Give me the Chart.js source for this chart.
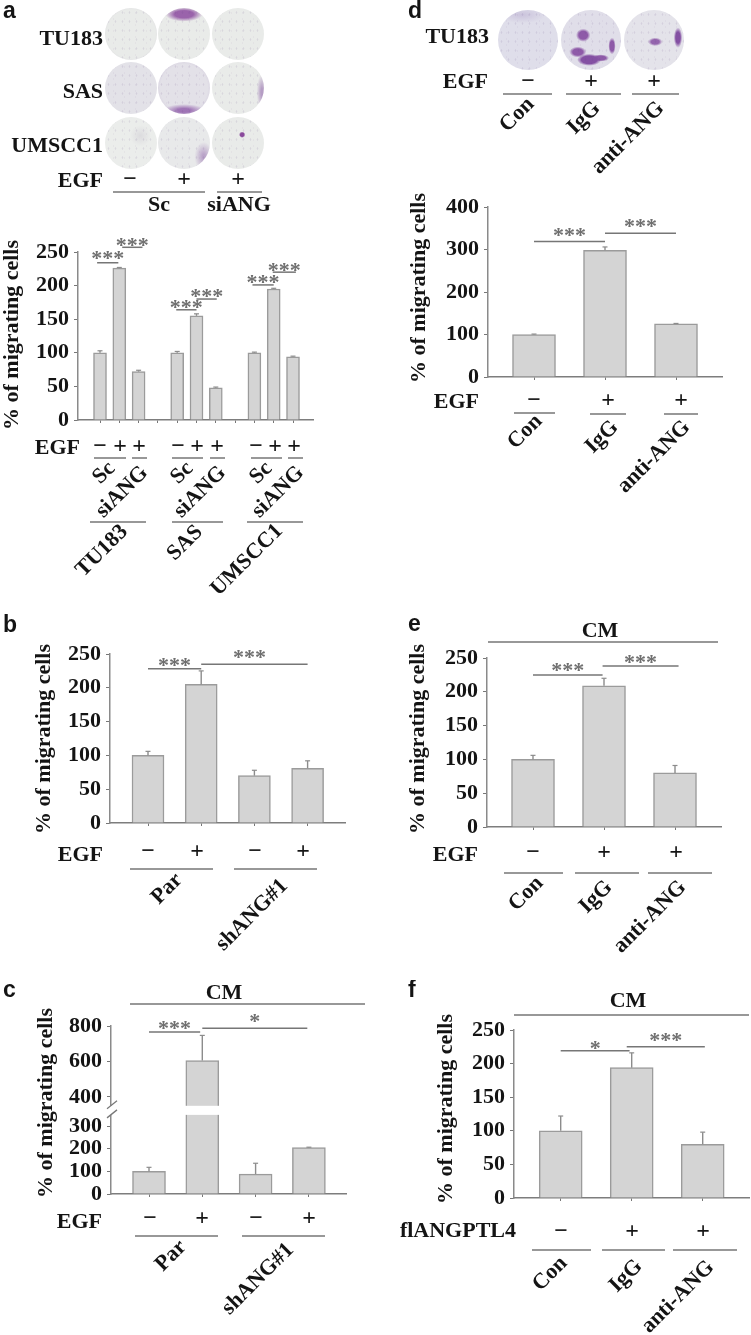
<!DOCTYPE html>
<html>
<head>
<meta charset="utf-8">
<title>Migrating cells</title>
<script src="https://cdn.jsdelivr.net/npm/chart.js@4/dist/chart.umd.js"></script>
<style>
    html, body { margin: 0; background: #fff; }
    #page { position: relative; width: 751px; height: 1335px; overflow: hidden; }
    canvas { position: absolute; filter: blur(0.35px); }
    .dish { position: absolute; border-radius: 50%; filter: blur(0.7px); overflow: hidden; }
    .dish::after {
        content: ""; position: absolute; inset: 0; opacity: .22;
        background-image: radial-gradient(rgba(100,70,130,.55) .6px, transparent 1.1px), radial-gradient(rgba(100,70,130,.4) .7px, transparent 1.2px);
        background-size: 7px 9px, 11px 6px;
        background-position: 0 0, 3px 2px;
    }
</style>
</head>
<body>
<div id="page"></div>
<script>
// values
const aCategories = ["Sc", "Sc", "siANG", "", "Sc", "Sc", "siANG", "", "Sc", "Sc", "siANG"];
const aValues = [100, 226, 72, null, 100, 155, 48, null, 100, 195, 94];
const aErrors = [3, 1, 2, null, 2, 3, 1, null, 1, 1, 1];
const aTicks = [0, 50, 100, 150, 200, 250];

const bCategories = ["Par -", "Par +", "shANG#1 -", "shANG#1 +"];
const bValues = [100, 205, 70, 81];
const bErrors = [6, 20, 8, 11];
const bTicks = [0, 50, 100, 150, 200, 250];

const cCategories = ["Par -", "Par +", "shANG#1 -", "shANG#1 +"];
const cValues = [100, 605, 88, 205];
const cErrors = [18, 142, 48, 2];
const cTicks = [0, 100, 200, 300, 400, 600, 800];

const dCategories = ["Con", "IgG", "anti-ANG"];
const dValues = [100, 298, 125];
const dErrors = [1, 8, 1];
const dTicks = [0, 100, 200, 300, 400];

const eCategories = ["Con", "IgG", "anti-ANG"];
const eValues = [100, 209, 80];
const eErrors = [6, 11, 11];
const eTicks = [0, 50, 100, 150, 200, 250];

const fCategories = ["Con", "IgG", "anti-ANG"];
const fValues = [100, 194, 80];
const fErrors = [22, 22, 18];
const fTicks = [0, 50, 100, 150, 200, 250];

const yTitle = "% of migrating cells";
const serif = '"Liberation Serif", serif';
const ink = "#141414";
const ruleGrey = "#767676";

// panel c has a broken y axis, the part under 350 is stretched
class BrokenScale extends Chart.LinearScale {
    getPixelForValue(value) {
        const h = this.bottom - this.top;
        if (value <= 350) return this.bottom - (value / 350) * 0.471 * h;
        return this.bottom - (0.525 + ((value - 350) / 450) * 0.475) * h;
    }
}
BrokenScale.id = "broken";
BrokenScale.defaults = Chart.LinearScale.defaults;
Chart.register(BrokenScale);

// box = part of the page the canvas covers, axis = where the plot sits on the page
const panels = [
    {
        letter: "a", letterAt: [3, 18], box: [0, 0, 375, 610],
        axis: { left: 78, right: 313, top: 252, bottom: 420 },
        x0: 100, dx: 19.3, bar: 13, cap: 5,
        categories: aCategories, values: aValues, errors: aErrors, ticks: aTicks, max: 250,
        yTitleAt: [18, 335],
        sig: [
            { from: -0.15, to: 0.95, at: 234, mark: "***", lift: 8 },
            { from: 1.15, to: 2.2, at: 257, mark: "***", lift: 5 },
            { from: 3.95, to: 5, at: 164, mark: "***", lift: 6 },
            { from: 5, to: 6.05, at: 180, mark: "***", lift: 6 },
            { from: 7.9, to: 9, at: 201, mark: "***", lift: 6 },
            { from: 8.95, to: 10.15, at: 220, mark: "***", lift: 5 }
        ],
        names: [["TU183", 103, 45], ["SAS", 103, 98], ["UMSCC1", 103, 152], ["EGF", 103, 187], ["EGF", 80, 454]],
        centred: [["Sc", 159, 211], ["siANG", 239, 211]],
        signs: [
            ["−", 130, 180], ["+", 184, 180], ["+", 238, 180],
            ["−", 100, 447], ["+", 120, 447], ["+", 139, 447],
            ["−", 178, 447], ["+", 197, 447], ["+", 217, 447],
            ["−", 256, 447], ["+", 275, 447], ["+", 294, 447]
        ],
        rules: [
            [113, 205, 192], [217, 262, 192],
            [94, 126, 458], [132, 147, 458], [172, 203, 458], [210, 225, 458], [251, 282, 458], [288, 303, 458],
            [90, 146, 522], [172, 223, 522], [247, 303, 522]
        ],
        diag: [
            ["Sc", 104, 473], ["siANG", 122, 492], ["Sc", 182, 473], ["siANG", 200, 492],
            ["Sc", 261, 473], ["siANG", 278, 492], ["TU183", 102, 551], ["SAS", 185, 543], ["UMSCC1", 247, 560]
        ]
    },
    {
        letter: "b", letterAt: [3, 632], box: [0, 610, 375, 370],
        axis: { left: 110, right: 345, top: 654, bottom: 823 },
        x0: 148, dx: 53.2, bar: 32, cap: 5,
        categories: bCategories, values: bValues, errors: bErrors, ticks: bTicks, max: 250,
        yTitleAt: [50, 739],
        sig: [
            { from: 0, to: 1, at: 228, mark: "***", lift: 7 },
            { from: 1, to: 3, at: 235, mark: "***", lift: 10, shift: -5 }
        ],
        names: [["EGF", 103, 861]],
        centred: [],
        signs: [["−", 148, 852], ["+", 197, 852], ["−", 255, 852], ["+", 303, 852]],
        rules: [[130, 213, 869], [234, 317, 869]],
        diag: [["Par", 167, 889], ["shANG#1", 252, 915]]
    },
    {
        letter: "c", letterAt: [3, 997], box: [0, 980, 375, 355],
        axis: { left: 111, right: 346, top: 1026, bottom: 1194 },
        x0: 149, dx: 53.3, bar: 33, cap: 5, broken: true,
        categories: cCategories, values: cValues, errors: cErrors, ticks: cTicks, max: 800,
        yTitleAt: [52, 1103],
        sig: [
            { from: 0, to: 0.96, at: 766, mark: "***", lift: 7 },
            { from: 1, to: 2.97, at: 787, mark: "*", lift: 10 }
        ],
        names: [["EGF", 102, 1228]],
        centred: [["CM", 224, 999]],
        signs: [["−", 150, 1219], ["+", 202, 1219], ["−", 256, 1219], ["+", 309, 1219]],
        rules: [[130, 365, 1004], [135, 218, 1236], [242, 325, 1236]],
        diag: [["Par", 171, 1256], ["shANG#1", 258, 1279]]
    },
    {
        letter: "d", letterAt: [408, 18], box: [375, 0, 376, 610],
        axis: { left: 488, right: 722, top: 207, bottom: 377 },
        x0: 534, dx: 71, bar: 43, cap: 5,
        categories: dCategories, values: dValues, errors: dErrors, ticks: dTicks, max: 400,
        yTitleAt: [425, 288],
        sig: [
            { from: 0, to: 1, at: 319, mark: "***", lift: 9 },
            { from: 1, to: 2, at: 338, mark: "***", lift: 10 }
        ],
        names: [["TU183", 489, 43], ["EGF", 488, 88], ["EGF", 479, 408]],
        centred: [],
        signs: [
            ["−", 528, 82], ["+", 591, 82], ["+", 654, 82],
            ["−", 534, 401], ["+", 608, 401], ["+", 681, 401]
        ],
        rules: [[503, 552, 94], [566, 621, 94], [632, 679, 94], [514, 555, 413], [590, 626, 414], [664, 698, 414]],
        diag: [
            ["Con", 517, 115], ["IgG", 584, 118], ["anti-ANG", 628, 138],
            ["Con", 525, 432], ["IgG", 602, 437], ["anti-ANG", 654, 457]
        ]
    },
    {
        letter: "e", letterAt: [408, 631], box: [375, 610, 376, 370],
        axis: { left: 487, right: 721, top: 658, bottom: 827 },
        x0: 533, dx: 71, bar: 43, cap: 5,
        categories: eCategories, values: eValues, errors: eErrors, ticks: eTicks, max: 250,
        yTitleAt: [424, 739],
        sig: [
            { from: 0, to: 0.98, at: 225, mark: "***", lift: 8 },
            { from: 0.98, to: 2.05, at: 238, mark: "***", lift: 7 }
        ],
        names: [["EGF", 478, 861]],
        centred: [["CM", 600, 637]],
        signs: [["−", 533, 853], ["+", 604, 853], ["+", 676, 853]],
        rules: [[488, 718, 642], [504, 563, 873], [575, 639, 873], [648, 712, 873]],
        diag: [["Con", 526, 894], ["IgG", 596, 897], ["anti-ANG", 650, 917]]
    },
    {
        letter: "f", letterAt: [408, 997], box: [375, 980, 376, 355],
        axis: { left: 514, right: 749, top: 1030, bottom: 1198 },
        x0: 560.7, dx: 71, bar: 43, cap: 5,
        categories: fCategories, values: fValues, errors: fErrors, ticks: fTicks, max: 250,
        yTitleAt: [452, 1109],
        sig: [
            { from: 0, to: 0.97, at: 219, mark: "*", lift: 6 },
            { from: 0.93, to: 2.03, at: 225, mark: "***", lift: 10 }
        ],
        names: [["flANGPTL4", 516, 1237]],
        centred: [["CM", 628, 1007]],
        signs: [["−", 561, 1232], ["+", 632, 1232], ["+", 703, 1232]],
        rules: [[514, 749, 1015], [532, 591, 1250], [602, 665, 1250], [673, 737, 1250]],
        diag: [["Con", 550, 1274], ["IgG", 626, 1276], ["anti-ANG", 678, 1297]]
    }
];

// culture dishes, these are photos in the figure so only a rough look
const plateA = "#e9ebe9";
const plateD = "#dfdeea";
const dishes = [
    [131, 34, 26, plateA, "radial-gradient(circle at 50% 50%, transparent 66%, rgba(120,90,150,.28) 100%)"],
    [184, 34, 26, plateA, "radial-gradient(ellipse 36% 14% at 50% 12%, #9a63ab 50%, rgba(154,99,171,.3) 85%, transparent 100%)"],
    [238, 34, 26, plateA, "radial-gradient(circle at 50% 50%, transparent 74%, rgba(120,90,150,.16) 100%)"],
    [131, 88, 26, "#e3e2e8", "radial-gradient(circle at 50% 50%, transparent 72%, rgba(120,90,150,.12) 100%)"],
    [184, 88, 26, "#e3e1e8", "radial-gradient(ellipse 40% 12% at 50% 93%, rgba(130,70,160,.7) 30%, transparent 100%), radial-gradient(circle at 50% 50%, transparent 64%, rgba(120,80,160,.3) 100%)"],
    [238, 88, 26, plateA, "radial-gradient(ellipse 10% 35% at 96% 58%, rgba(130,80,160,.5) 20%, transparent 100%)"],
    [131, 143, 26, "#ebedeb", "radial-gradient(circle at 68% 36%, rgba(110,90,130,.12) 0, transparent 22%)"],
    [184, 143, 26, "#e8e9ea", "radial-gradient(ellipse 18% 28% at 88% 76%, rgba(130,80,160,.45) 15%, transparent 100%)"],
    [238, 143, 26, plateA, "radial-gradient(circle at 58% 34%, #8a4a9c 0, #8a4a9c 4%, transparent 7%)"],
    [528, 40, 30, plateD, "radial-gradient(ellipse 40% 14% at 40% 8%, rgba(130,100,170,.22) 0, transparent 100%)"],
    [591, 40, 30, "#e0dee9",
        "radial-gradient(ellipse 12% 11% at 37% 42%, #8e5aa8 60%, transparent 100%), radial-gradient(ellipse 14% 9% at 28% 70%, #8e5aa8 60%, transparent 100%), radial-gradient(ellipse 20% 10% at 47% 83%, #8450a3 65%, transparent 100%), radial-gradient(ellipse 14% 6% at 66% 80%, #8e5aa8 60%, transparent 100%), radial-gradient(ellipse 6% 14% at 85% 60%, #8e5aa8 60%, transparent 100%)"],
    [654, 40, 30, "#e4e3ea", "radial-gradient(ellipse 12% 7% at 52% 53%, #9465ad 55%, transparent 100%), radial-gradient(ellipse 7% 17% at 90% 46%, #8450a3 55%, transparent 100%)"]
];

const page = document.getElementById("page");

dishes.forEach(d => {
    const el = document.createElement("div");
    el.className = "dish";
    el.style.left = (d[0] - d[2]) + "px";
    el.style.top = (d[1] - d[2]) + "px";
    el.style.width = el.style.height = (d[2] * 2) + "px";
    el.style.backgroundColor = d[3];
    el.style.backgroundImage = d[4];
    page.appendChild(el);
});

function writeText(ctx, text, x, y, font, align, color) {
    ctx.font = font;
    ctx.textAlign = align;
    ctx.textBaseline = "alphabetic";
    ctx.fillStyle = color || ink;
    ctx.fillText(text, x, y);
}

function writeTurned(ctx, text, x, y, angle, font) {
    ctx.save();
    ctx.translate(x, y);
    ctx.rotate(angle);
    ctx.font = font;
    ctx.textAlign = "center";
    ctx.textBaseline = "middle";
    ctx.fillStyle = ink;
    ctx.fillText(text, 0, 0);
    ctx.restore();
}

function pageLine(ctx, x1, y1, x2, y2, color, width) {
    ctx.strokeStyle = color;
    ctx.lineWidth = width;
    ctx.beginPath();
    ctx.moveTo(x1, y1);
    ctx.lineTo(x2, y2);
    ctx.stroke();
}

// error bars, axis break, significance marks and the labels under the axes
function figurePlugin(p) {
    return {
        id: "figureExtras",
        afterDraw(chart) {
            const xs = chart.scales.x;
            const ys = chart.scales.y;
            const ctx = chart.ctx;

            ctx.save();
            p.errors.forEach((err, i) => {
                if (err == null) return;
                const x = xs.getPixelForValue(i);
                const y1 = ys.getPixelForValue(p.values[i]);
                const y2 = ys.getPixelForValue(p.values[i] + err);
                pageLine(ctx, x, y1, x, y2, "#8c8c8c", 1.4);
                pageLine(ctx, x - p.cap / 2, y2, x + p.cap / 2, y2, "#8c8c8c", 1.2);
            });

            if (p.broken) {
                const low = ys.getPixelForValue(350);
                const high = ys.getPixelForValue(350.01);
                ctx.fillStyle = "#fff";
                ctx.fillRect(xs.left - 4, high, xs.right - xs.left + 4, low - high);
                pageLine(ctx, xs.left - 4, high + 3, xs.left + 6, high - 5, "#777", 1.3);
                pageLine(ctx, xs.left - 4, low + 3, xs.left + 6, low - 5, "#777", 1.3);
            }

            p.sig.forEach(s => {
                const x1 = xs.getPixelForValue(s.from);
                const x2 = xs.getPixelForValue(s.to);
                const y = ys.getPixelForValue(s.at);
                pageLine(ctx, x1, y, x2, y, ruleGrey, 1.5);
                writeText(ctx, s.mark, (x1 + x2) / 2 + (s.shift || 0), y - s.lift + 10, "bold 22px " + serif, "center", "#6f6f6f");
            });

            // the rest is placed in page pixels
            ctx.translate(-p.box[0], -p.box[1]);
            const font = "bold 22px " + serif;
            writeText(ctx, p.letter, p.letterAt[0], p.letterAt[1], 'bold 23px "Liberation Sans", sans-serif', "left");
            writeTurned(ctx, yTitle, p.yTitleAt[0] - 6, p.yTitleAt[1], -Math.PI / 2, font);
            p.names.forEach(n => writeText(ctx, n[0], n[1], n[2], font, "right"));
            p.centred.forEach(n => writeText(ctx, n[0], n[1], n[2], font, "center"));
            p.signs.forEach(n => writeText(ctx, n[0], n[1], n[2] + 6, "bold 24px " + serif, "center"));
            p.rules.forEach(r => pageLine(ctx, r[0], r[2], r[1], r[2], ruleGrey, 1.5));
            p.diag.forEach(n => writeTurned(ctx, n[0], n[1], n[2], -Math.PI / 4, font));
            ctx.restore();
        }
    };
}

function drawPanel(p) {
    const canvas = document.createElement("canvas");
    canvas.width = p.box[2];
    canvas.height = p.box[3];
    canvas.style.left = p.box[0] + "px";
    canvas.style.top = p.box[1] + "px";
    page.appendChild(canvas);

    const points = [];
    p.values.forEach((v, i) => {
        if (v != null) points.push({ x: i, y: v });
    });

    new Chart(canvas, {
        type: "bar",
        data: {
            labels: p.categories,
            datasets: [{
                data: points,
                backgroundColor: "#d4d4d4",
                borderColor: "#9b9b9b",
                borderWidth: 1.5,
                barThickness: p.bar
            }]
        },
        plugins: [figurePlugin(p)],
        options: {
            responsive: false,
            animation: false,
            layout: {
                padding: {
                    top: p.axis.top - p.box[1],
                    right: p.box[0] + p.box[2] - p.axis.right,
                    left: 0,
                    bottom: 0
                }
            },
            plugins: {
                legend: { display: false },
                tooltip: { enabled: false }
            },
            scales: {
                x: {
                    type: "linear",
                    offset: false,
                    min: (p.axis.left - p.x0) / p.dx,
                    max: (p.axis.right - p.x0) / p.dx,
                    afterBuildTicks: s => { s.ticks = p.categories.map((c, i) => ({ value: i })); },
                    afterFit: s => { s.height = p.box[1] + p.box[3] - p.axis.bottom; },
                    ticks: { display: false },
                    grid: { offset: false, drawOnChartArea: false, tickLength: 3, tickColor: "#777" },
                    border: { color: "#7d7d7d", width: 1.5 }
                },
                y: {
                    type: p.broken ? "broken" : "linear",
                    min: 0,
                    max: p.max,
                    afterBuildTicks: s => { s.ticks = p.ticks.map(v => ({ value: v })); },
                    afterFit: s => { s.width = p.axis.left - p.box[0]; },
                    ticks: {
                        autoSkip: false,
                        color: ink,
                        padding: 5,
                        font: { family: "Liberation Serif", size: 22, weight: "bold" }
                    },
                    grid: { drawOnChartArea: false, tickLength: 4, tickColor: "#777" },
                    border: { color: "#8a8a8a", width: 1.5 }
                }
            }
        }
    });
}

panels.forEach(drawPanel);
</script>
</body>
</html>
